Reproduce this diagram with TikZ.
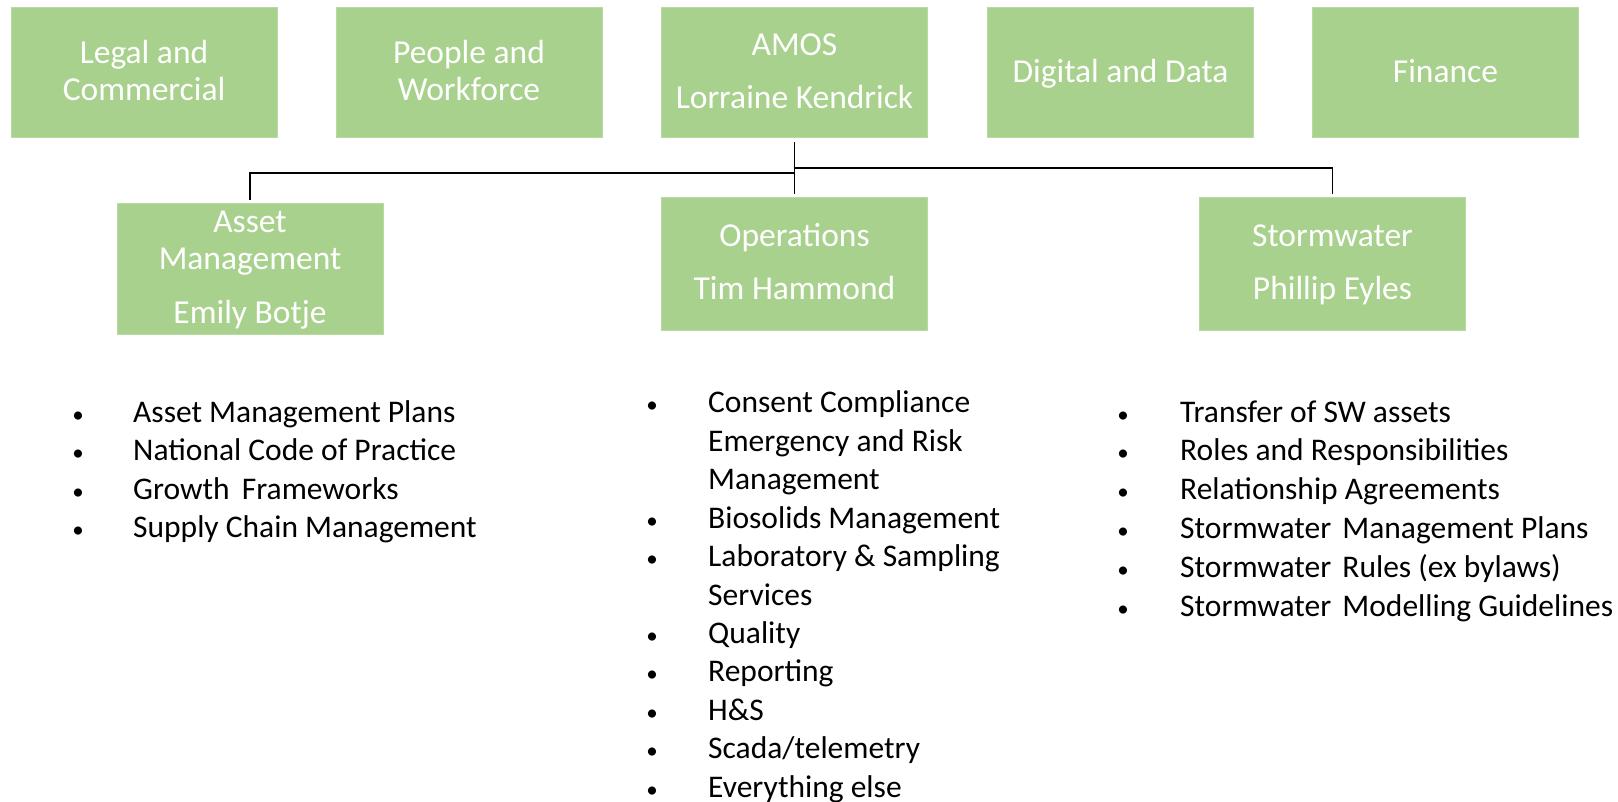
\documentclass[tikz,border=0pt]{standalone}
\usepackage{fontspec}
\setmainfont{Carlito}
\definecolor{boxgreen}{RGB}{169,209,142}
\definecolor{boxedge}{RGB}{182,218,160}
\newcommand{\bxs}{\rule[-7pt]{0pt}{34pt}}
\begin{document}
\begin{tikzpicture}[x=1pt,y=-1pt,
  box/.style={fill=boxgreen,draw=boxedge,line width=0.8pt,text=white,align=center,
    inner sep=0pt,minimum width=266pt,minimum height=130pt,
    font=\fontsize{33.5}{37}\selectfont},
  conn/.style={draw=black,line width=1.5pt},
  item/.style={anchor=base west,inner sep=0pt,font=\fontsize{31.5}{38}\selectfont},
  bul/.style={anchor=base,inner sep=0pt,font=\fontsize{23}{28}\selectfont}
]
\useasboundingbox (0,0) rectangle (1618,802);
% top row
\node[box] (legal) at (144,72.5) {\bxs Legal and\\\bxs Commercial};
\node[box] (people) at (469,72.5) {\bxs People and\\\bxs Workforce};
\node[box] (amos) at (794.5,72.5) {\bxs AMOS\\[16pt]\bxs Lorraine Kendrick};
\node[box] (digital) at (1120.5,72.5) {\bxs Digital and Data};
\node[box] (finance) at (1445.5,72.5) {\bxs Finance};
% second row
\node[box,minimum height=131pt] (asset) at (250,268.5) {\bxs Asset\\\bxs Management\\[17pt]\bxs Emily Botje};
\node[box,minimum height=133pt] (ops) at (794.5,263.5) {\bxs Operations\\[16pt]\bxs Tim Hammond};
\node[box,minimum height=133pt] (storm) at (1332.5,263.5) {\bxs Stormwater\\[16pt]\bxs Phillip Eyles};
% connectors
\draw[conn] ([yshift=-4pt]amos.south) -- ([yshift=3pt]ops.north);
\draw[conn] ([yshift=-35pt]amos.south) -| ([yshift=3pt]asset.north);
\draw[conn] ([yshift=-30pt]amos.south) -| ([yshift=3pt]storm.north);
% left list
\foreach \t [count=\i from 0] in {Asset Management Plans,National Code of Practice,Growth\hspace{5pt} Frameworks,Supply Chain Management}{
  \node[bul] (ab\i) at (78,422+38.6*\i) {•};
  \node[item] (at\i) at (133,422+38.6*\i) {\t};
}
% middle list
\foreach \b/\t [count=\i from 0] in {1/Consent Compliance,0/Emergency and Risk,0/Management,1/Biosolids Management,1/Laboratory \& Sampling,0/Services,1/Quality,1/Reporting,1/H\&S,1/{Scada/telemetry},1/Everything else}{
  \ifnum\b=1 \node[bul] (ob\i) at (652,413+38.4*\i) {•};\fi
  \node[item] (ot\i) at (708,413+38.4*\i) {\t};
}
% right list
\foreach \t [count=\i from 0] in {Transfer of SW assets,Roles and Responsibilities,Relationship Agreements,Stormwater\hspace{4pt} Management Plans,Stormwater\hspace{4pt} Rules (ex bylaws),Stormwater\hspace{4pt} Modelling Guidelines}{
  \node[bul] (sb\i) at (1123,422+38.8*\i) {•};
  \node[item] (st\i) at (1180,422+38.8*\i) {\t};
}
\end{tikzpicture}
\end{document}
